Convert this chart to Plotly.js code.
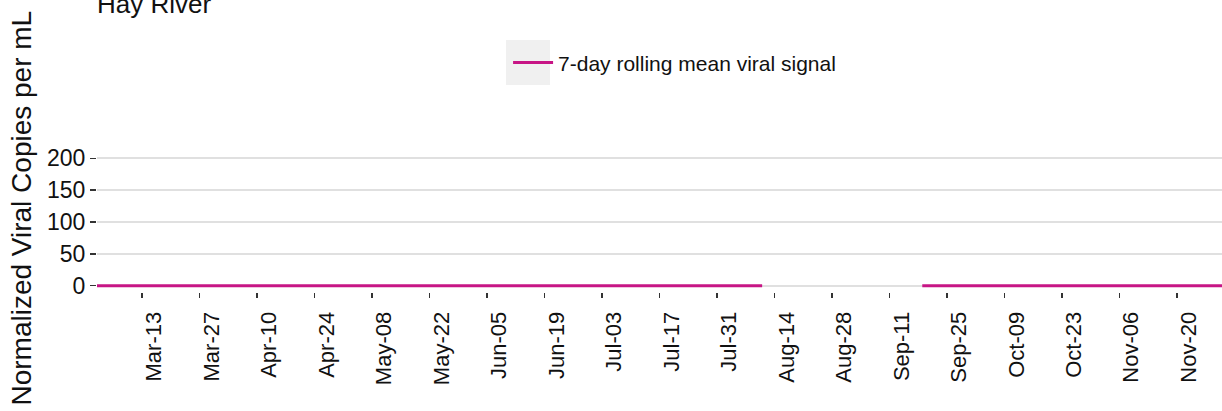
<!DOCTYPE html>
<html>
<head>
<meta charset="utf-8">
<script src="https://cdn.plot.ly/plotly-3.0.1.min.js"></script>
<style>
  html, body { margin: 0; padding: 0; background: #ffffff; }
  #chart { width: 1222px; height: 411px; }
</style>
</head>
<body>
<div id="chart"></div>
<script>
// ---- data ----
const siteName = "Hay River";
const seriesName = "7-day rolling mean viral signal";
const sampleDates = [
  "2022-03-02", "2022-03-09", "2022-03-16", "2022-03-23", "2022-03-30",
  "2022-04-06", "2022-04-13", "2022-04-20", "2022-04-27", "2022-05-04",
  "2022-05-11", "2022-05-18", "2022-05-25", "2022-06-01", "2022-06-08",
  "2022-06-15", "2022-06-22", "2022-06-29", "2022-07-06", "2022-07-13",
  "2022-07-20", "2022-07-27", "2022-08-03", "2022-08-11",
  "2022-08-30",
  "2022-09-19", "2022-09-26", "2022-10-03", "2022-10-10", "2022-10-17",
  "2022-10-24", "2022-10-31", "2022-11-07", "2022-11-14", "2022-11-21",
  "2022-11-28", "2022-12-01"
];
const rollingMean = [
  0, 0, 0, 0, 0,
  0, 0, 0, 0, 0,
  0, 0, 0, 0, 0,
  0, 0, 0, 0, 0,
  0, 0, 0, 0,
  null,
  0, 0, 0, 0, 0,
  0, 0, 0, 0, 0,
  0, 0
];
const xTickDates = [
  "2022-03-13", "2022-03-27", "2022-04-10", "2022-04-24", "2022-05-08",
  "2022-05-22", "2022-06-05", "2022-06-19", "2022-07-03", "2022-07-17",
  "2022-07-31", "2022-08-14", "2022-08-28", "2022-09-11", "2022-09-25",
  "2022-10-09", "2022-10-23", "2022-11-06", "2022-11-20"
];
const yTickValues = [0, 50, 100, 150, 200];
const yAxisLabel = "Normalized Viral Copies per mL";

// ---- chart ----
const lineColor = "#C71585";
const textColor = "#111111";

const traces = [{
  type: "scatter",
  mode: "lines",
  x: sampleDates,
  y: rollingMean,
  name: seriesName,
  line: { color: lineColor, width: 3 },
  connectgaps: false,
  showlegend: true,
  hoverinfo: "x+y"
}];

const layout = {
  width: 1222,
  height: 411,
  margin: { l: 97, r: 0, t: 152, b: 119, pad: 0 },
  paper_bgcolor: "#ffffff",
  plot_bgcolor: "#ffffff",
  font: { family: "Liberation Sans, Arial, sans-serif", color: textColor },
  title: {
    text: siteName,
    font: { size: 26, color: textColor },
    xref: "paper", x: 0, xanchor: "left",
    yref: "container", y: 0.9907, yanchor: "middle"
  },
  showlegend: true,
  legend: {
    x: 0.3654, xanchor: "left",
    y: 1.636, yanchor: "middle",
    xref: "paper", yref: "paper",
    bgcolor: "rgba(0,0,0,0)",
    borderwidth: 0,
    itemwidth: 40,
    font: { size: 21, color: textColor }
  },
  xaxis: {
    type: "date",
    tickmode: "array",
    tickvals: xTickDates,
    tickformat: "%b-%d",
    tickangle: -90,
    ticks: "outside",
    ticklen: 5,
    tickwidth: 1.5,
    tickcolor: "#333333",
    tickfont: { size: 22, color: textColor },
    ticklabelstandoff: 5,
    ticklabelshift: 12,
    showgrid: false,
    zeroline: false,
    showline: false
  },
  xaxis2: {
    type: "date",
    overlaying: "x",
    matches: "x",
    anchor: "y",
    tickmode: "array",
    tickvals: xTickDates,
    showticklabels: false,
    ticks: "",
    showgrid: true,
    gridcolor: "#ffffff",
    gridwidth: 2,
    zeroline: false,
    showline: false
  },
  yaxis: {
    range: [-10, 210],
    tickmode: "array",
    tickvals: yTickValues,
    ticks: "outside",
    ticklen: 6,
    tickwidth: 1.5,
    tickcolor: "#333333",
    tickfont: { size: 23, color: textColor },
    showgrid: true,
    gridcolor: "#E0E0E0",
    gridwidth: 2,
    zeroline: false,
    showline: false
  },
  annotations: [{
    text: yAxisLabel,
    textangle: -90,
    xref: "paper", yref: "paper",
    x: 0, xanchor: "center", xshift: -75,
    y: 0.596, yanchor: "middle",
    showarrow: false,
    font: { size: 28, color: textColor }
  }],
  shapes: [{
    type: "rect",
    xref: "paper", yref: "paper",
    x0: 0.3636, x1: 0.4027, y0: 1.4786, y1: 1.8,
    fillcolor: "#F0F0F0",
    line: { width: 0 },
    layer: "above"
  }]
};

Plotly.newPlot("chart", traces, layout, { displayModeBar: false, staticPlot: true });
</script>
</body>
</html>
